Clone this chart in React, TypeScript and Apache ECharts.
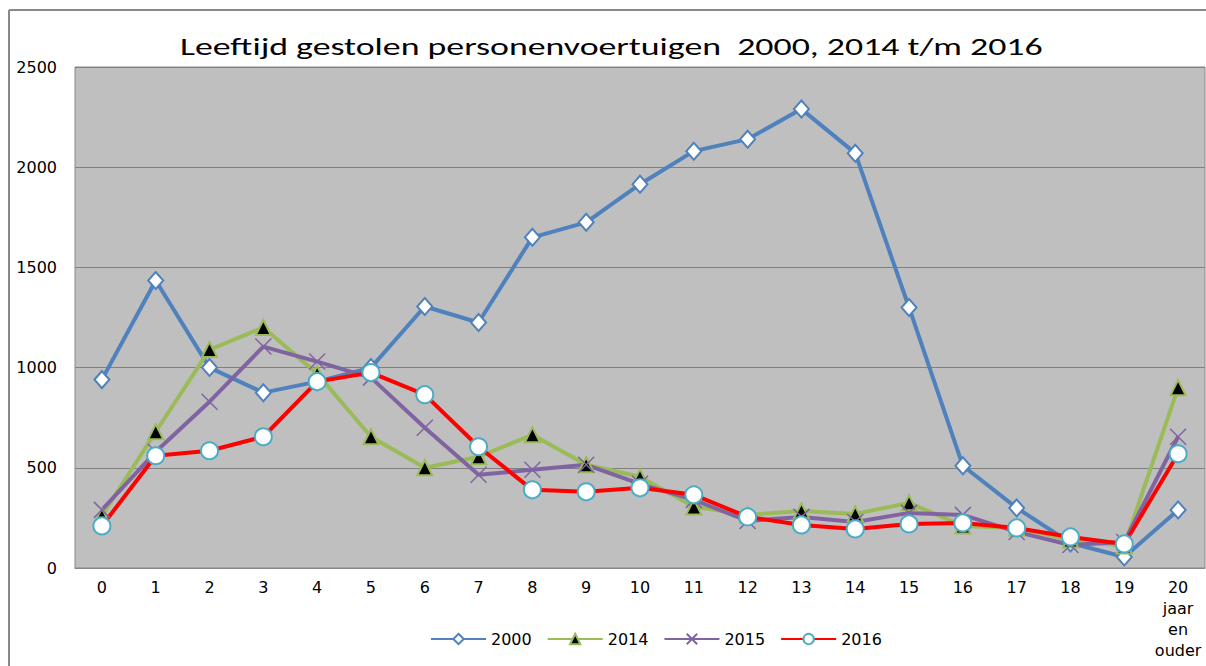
import React, { useEffect, useRef } from "react";
import * as echarts from "echarts";

const categories = ["0","1","2","3","4","5","6","7","8","9","10","11","12","13","14","15","16","17","18","19","20\njaar\nen\nouder"];
const s2000 = [940,1435,1000,875,930,1000,1305,1225,1650,1725,1915,2080,2140,2290,2070,1300,510,300,125,55,290];
const s2014 = [260,680,1090,1200,970,655,500,555,665,515,455,305,265,285,270,325,210,200,140,110,900];
const s2015 = [290,580,830,1105,1030,950,700,465,490,515,420,340,235,255,230,275,265,180,115,130,655];
const s2016 = [210,560,585,655,930,975,865,605,390,380,400,365,255,215,195,220,225,200,155,120,570];
const yTicks = { min: 0, max: 2500, interval: 500 };
const title = "Leeftijd gestolen personenvoertuigen  2000, 2014 t/m 2016";

const CROSS = "path://M0,0L10,10M10,0L0,10";
const LABEL_FONT = "'DejaVu Sans', 'Liberation Sans', Arial, sans-serif";
const TITLE_FONT = "Carlito, Lato, 'Liberation Sans', sans-serif";
const TITLE_SIZE = 25;
const TITLE_WIDTH = 863;

function measure(text: string, font: string): number {
  const c = document.createElement("canvas");
  const ctx = c.getContext("2d");
  if (!ctx) return TITLE_WIDTH;
  ctx.font = font;
  return ctx.measureText(text).width || TITLE_WIDTH;
}

export default function App() {
  const ref = useRef<HTMLDivElement>(null);
  useEffect(() => {
    if (!ref.current) return;
    const chart = echarts.init(ref.current, undefined, { renderer: "svg" });
    const w = measure(title, `${TITLE_SIZE}px ${TITLE_FONT}`);
    const sx = TITLE_WIDTH / w;
    chart.setOption({
      animation: false,
      backgroundColor: "#ffffff",
      graphic: [
        { type: "line", shape: { x1: 9, y1: 10, x2: 9, y2: 666 }, style: { stroke: "#888", lineWidth: 2 } },
        { type: "line", shape: { x1: 9, y1: 10, x2: 1206, y2: 10 }, style: { stroke: "#888", lineWidth: 2 } },
        {
          type: "text",
          x: 180,
          y: 47,
          scaleX: sx,
          style: {
            text: title,
            font: `${TITLE_SIZE}px ${TITLE_FONT}`,
            fill: "#000",
            textAlign: "left",
            textVerticalAlign: "middle",
          },
        },
      ],
      legend: {
        left: 425,
        top: 626,
        itemWidth: 55,
        itemHeight: 13,
        itemGap: 15,
        textStyle: { fontFamily: LABEL_FONT, fontSize: 16, color: "#000" },
        data: ["2000", "2014", "2015", "2016"],
      },
      grid: {
        left: 75,
        top: 67,
        width: 1130,
        height: 501,
        show: true,
        backgroundColor: "#BFBFBF",
        borderColor: "#888",
        borderWidth: 1,
      },
      xAxis: {
        type: "category",
        data: categories,
        boundaryGap: true,
        axisLine: { lineStyle: { color: "#888" } },
        axisTick: { show: false },
        axisLabel: {
          fontFamily: LABEL_FONT,
          fontSize: 16,
          color: "#000",
          margin: 9,
          lineHeight: 21,
          interval: 0,
        },
      },
      yAxis: {
        type: "value",
        min: yTicks.min,
        max: yTicks.max,
        interval: yTicks.interval,
        axisLine: { show: false },
        axisTick: { show: false },
        splitLine: { lineStyle: { color: "#808080", width: 1 } },
        axisLabel: {
          fontFamily: LABEL_FONT,
          fontSize: 16,
          color: "#000",
          margin: 18,
          formatter: (v: number) => String(v),
        },
      },
      series: [
        {
          name: "2000",
          type: "line",
          data: s2000,
          symbol: "diamond",
          symbolSize: [15, 17],
          lineStyle: { color: "#4F81BD", width: 4 },
          itemStyle: { color: "#ffffff", borderColor: "#4F81BD", borderWidth: 2 },
        },
        {
          name: "2014",
          type: "line",
          data: s2014,
          symbol: "triangle",
          symbolSize: 15,
          lineStyle: { color: "#9BBB59", width: 4 },
          itemStyle: { color: "#000000", borderColor: "#9BBB59", borderWidth: 2 },
        },
        {
          name: "2015",
          type: "line",
          data: s2015,
          symbol: CROSS,
          symbolSize: 16,
          lineStyle: { color: "#8064A2", width: 4 },
          itemStyle: { color: "#8064A2", borderColor: "#8064A2", borderWidth: 1.5 },
        },
        {
          name: "2016",
          type: "line",
          data: s2016,
          symbol: "circle",
          symbolSize: 17,
          lineStyle: { color: "#FF0000", width: 4 },
          itemStyle: { color: "#ffffff", borderColor: "#4BACC6", borderWidth: 2 },
        },
      ],
    });
    return () => chart.dispose();
  }, []);
  return (
    <div
      ref={ref}
      style={{ position: "fixed", left: 0, top: 0, width: 1206, height: 666 }}
    />
  );
}
